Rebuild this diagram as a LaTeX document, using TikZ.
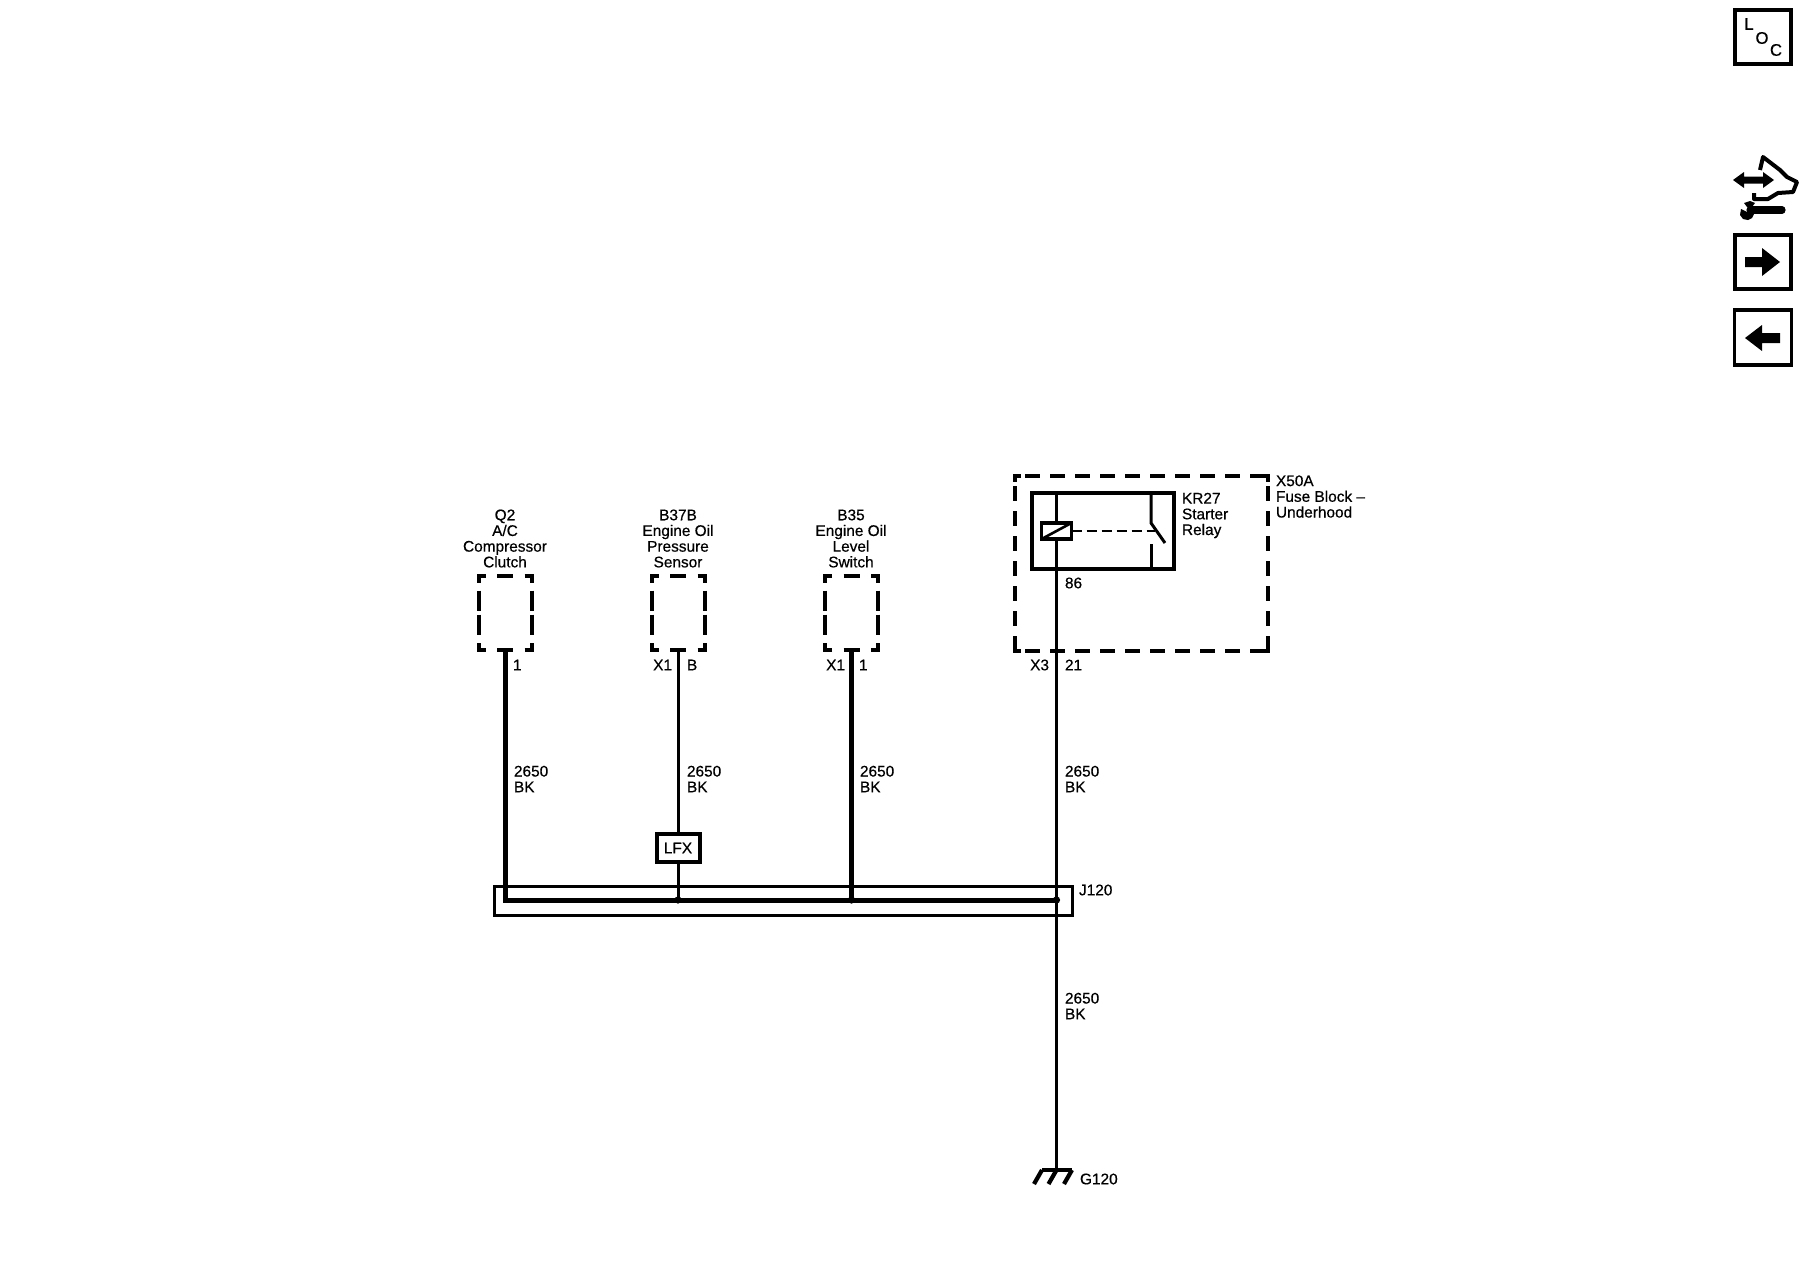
\documentclass[tikz,border=0pt]{standalone}
\usepackage{fontspec}
\setmainfont{Liberation Sans}[FakeBold=0.5]
\usetikzlibrary{calc}
\tikzset{
  lbl/.style={inner sep=0pt,outer sep=0pt,font=\fontsize{7.7}{7.85}\selectfont},
  lblw/.style={lbl,anchor=west,align=left},
  lble/.style={lbl,anchor=east,align=right},
  ttl/.style={lbl,anchor=center,align=center},
  thinwire/.style={line width=1.5pt},
  thickwire/.style={line width=2.5pt},
  frame/.style={draw,line width=1.7pt,inner sep=0pt,outer sep=0pt},
  hollow/.style={inner sep=0pt,outer sep=0pt,minimum width=26.5pt,minimum height=37pt},
  dashside/.style={line width=2pt},
  longdash/.style={line width=2pt,dash pattern=on 7.5pt off 5pt,dash phase=7.5pt},
  blk/.style={fill=black,draw=none},
  dotmark/.style={circle,fill=black,inner sep=0pt,outer sep=0pt,minimum size=3.6pt}
}
% dashed component outline drawn round a named node
\newcommand{\compbox}[1]{%
  \draw[dashside] ($(#1.north west)+(7,0)$) -- (#1.north west) -- ++(0,7);
  \draw[dashside] ($(#1.north east)+(-7,0)$) -- (#1.north east) -- ++(0,7);
  \draw[dashside] ($(#1.south west)+(7,0)$) -- (#1.south west) -- ++(0,-7);
  \draw[dashside] ($(#1.south east)+(-7,0)$) -- (#1.south east) -- ++(0,-7);
  \draw[dashside] ($(#1.north)+(-8,0)$) -- ++(16,0);
  \draw[dashside] ($(#1.south)+(-8,0)$) -- ++(16,0);
  \draw[dashside] ($(#1.west)+(0,-22)$) -- ++(0,20);
  \draw[dashside] ($(#1.west)+(0,2)$) -- ++(0,20);
  \draw[dashside] ($(#1.east)+(0,-22)$) -- ++(0,20);
  \draw[dashside] ($(#1.east)+(0,2)$) -- ++(0,20);
}
\begin{document}
\begin{tikzpicture}[x=0.5pt,y=-0.5pt]
\useasboundingbox (0,0) rectangle (1800,1280);
\fill[white] (0,0) rectangle (1800,1280);

% right-hand icons
\node[frame,minimum width=28pt,minimum height=27pt] (loc) at (1763,37) {};
\node[lbl,font=\fontsize{8.4}{9}\selectfont] (locL) at (1749,24) {L};
\node[lbl,font=\fontsize{8.4}{9}\selectfont] (locO) at (1762,38) {O};
\node[lbl,font=\fontsize{8.4}{9}\selectfont] (locC) at (1776,50) {C};

\fill[blk] (1733,180) -- (1744,172) -- (1744,176.5) -- (1763,176.5) -- (1763,172) -- (1774,180)
  -- (1763,188) -- (1763,183.5) -- (1744,183.5) -- (1744,188) -- cycle;
\draw[line width=2pt,line join=round] (1760,170) -- (1763,157) -- (1780,170) -- (1787,177)
  -- (1797,182) -- (1793,192) -- (1778,193) -- (1768,199) -- (1754,199) -- (1754,193);
\draw[line width=3.6pt,line cap=round] (1750,210) -- (1782,210);
\fill[blk] (1741,209) -- (1747,212) -- (1752,207) -- (1755,212) -- (1752,218) -- (1748,220)
  -- (1743,219) -- (1740,215) -- cycle;
\fill[blk] (1744,203) -- (1750,201) -- (1755,203) -- (1752,207) -- (1747,207) -- cycle;

\node[frame,minimum width=28pt,minimum height=27pt] (nextbox) at (1763,262) {};
\fill[blk] (1745,257) -- (1762,257) -- (1762,248) -- (1780,262) -- (1762,276) -- (1762,267) -- (1745,267) -- cycle;
\node[frame,minimum width=28.5pt,minimum height=27.5pt] (prevbox) at (1763,337.5) {};
\fill[blk] (1780,333) -- (1762,333) -- (1762,325) -- (1745,338) -- (1762,351) -- (1762,343) -- (1780,343) -- cycle;

% fuse block outline
\node[inner sep=0pt,outer sep=0pt,minimum width=126.5pt,minimum height=87.5pt] (x50a) at (1141.5,563.5) {};
\draw[longdash] (x50a.north west) -- (x50a.north east);
\draw[longdash] (x50a.south west) -- (x50a.south east);
\draw[longdash] (x50a.north west) -- (x50a.south west);
\draw[longdash] (x50a.north east) -- (x50a.south east);
\draw[dashside] ($(x50a.north west)+(6,0)$) -- (x50a.north west) -- ++(0,6);
\draw[dashside] ($(x50a.north east)+(-6,0)$) -- (x50a.north east) -- ++(0,6);
\draw[dashside] ($(x50a.south west)+(6,0)$) -- (x50a.south west) -- ++(0,-6);
\draw[dashside] ($(x50a.south east)+(-6,0)$) -- (x50a.south east) -- ++(0,-6);
\node[lblw] (x50atext) at (1276,496.5) {X50A\\Fuse Block --\\Underhood};

% relay
\node[frame,minimum width=71pt,minimum height=38pt] (relay) at (1103,531) {};
\node[lblw] (relaytext) at (1182,515.5) {KR27\\Starter\\Relay};
\coordinate (coiltop) at (1056.5,523);
\coordinate (relaytop) at (1056.5,493);
\coordinate (contacttop) at (1151,493);
\coordinate (contactpivot) at (1151,523);
\coordinate (contacttip) at (1165,543);
\coordinate (contactlow) at (1151,544);
\coordinate (contactbot) at (1151,569);
\coordinate (dashend) at (1155,531);
\draw[thinwire] (relaytop) -- (coiltop);
\draw[thinwire] (contacttop) -- (contactpivot) -- (contacttip);
\draw[thinwire] (contactlow) -- (contactbot);
\node[draw,line width=1.9pt,fill=white,minimum width=15pt,minimum height=8pt,inner sep=0pt,outer sep=0pt] (coil) at (1056.5,531) {};
\draw[line width=1.3pt] ($(coil.south west)+(2,-1)$) -- ($(coil.north east)+(-2,1)$);
\draw[line width=1.3pt,dash pattern=on 5pt off 2.5pt] (coil.east) -- (dashend);
\node[lblw] (pin86) at (1065,583) {86};

% component outlines
\node[hollow] (q2) at (505,612.5) {};
\node[hollow] (b37b) at (678,612.5) {};
\node[hollow] (b35) at (851.5,612.5) {};
\compbox{q2}\compbox{b37b}\compbox{b35}
\node[ttl,anchor=south] (q2text) at (505,567.5) {Q2\\A/C\\Compressor\\Clutch};
\node[ttl,anchor=south] (b37btext) at (678,567.5) {B37B\\Engine Oil\\Pressure\\Sensor};
\node[ttl,anchor=south] (b35text) at (851,567.5) {B35\\Engine Oil\\Level\\Switch};

% pin labels
\node[lblw] (pq2) at (513,665) {1};
\node[lble] (x1a) at (672,665) {X1};
\node[lblw] (pb) at (687,665) {B};
\node[lble] (x1b) at (845,665) {X1};
\node[lblw] (p1b) at (859,665) {1};
\node[lble] (x3) at (1049,665) {X3};
\node[lblw] (p21) at (1065,665) {21};

% wire labels
\node[lblw] (w1) at (514,779) {2650\\BK};
\node[lblw] (w2) at (687,779) {2650\\BK};
\node[lblw] (w3) at (860,779) {2650\\BK};
\node[lblw] (w4) at (1065,779) {2650\\BK};
\node[lblw] (w5) at (1065,1006) {2650\\BK};

% splice pack
\node[draw,line width=1.5pt,inner sep=0pt,outer sep=0pt,minimum width=289pt,minimum height=14.5pt] (j120) at (783,900.5) {};
\node[lblw] (j120text) at (1079,890) {J120};

% LFX
\node[draw,line width=2pt,fill=white,minimum width=21.5pt,minimum height=14pt,inner sep=0pt,outer sep=0pt,font=\fontsize{7.7}{7.85}\selectfont] (lfx) at (678,848) {LFX};

% junctions
\coordinate (jq2) at (505,900);
\node[dotmark] (jb37) at (678,900) {};
\node[dotmark] (jb35) at (851.5,900) {};
\node[dotmark] (jx50) at (1056.5,900) {};

% wires
\draw[thickwire,line join=miter] (q2.south) -- (jq2) -- (jx50.center);
\draw[thinwire] (b37b.south) -- (lfx.north);
\draw[thinwire] (lfx.south) -- (jb37.center);
\draw[thickwire] (b35.south) -- (jb35.center);
\draw[thinwire] (coil.south) -- (jx50.center);

% ground
\coordinate (gnd) at (1056.5,1170);
\coordinate (gl) at (1042,1170);
\coordinate (gr) at (1072,1170);
\draw[thinwire] (jx50.center) -- (gnd);
\draw[line width=2.1pt] (gl) -- (gr);
\draw[line width=2.1pt] (gl) -- ++(-8,14);
\draw[line width=2.1pt] (gnd) -- ++(-8,14);
\draw[line width=2.1pt] (gr) -- ++(-8,14);
\node[lblw] (g120) at (1080,1179) {G120};
\end{tikzpicture}
\end{document}
